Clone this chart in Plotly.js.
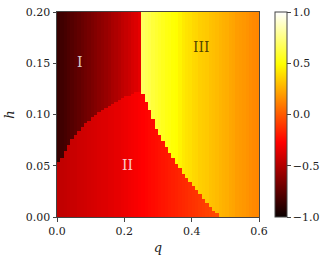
<!DOCTYPE html>
<html>
<head>
<meta charset="utf-8">
<script src="https://cdn.plot.ly/plotly-3.0.1.min.js"></script>
<style>html,body{margin:0;padding:0;background:#fff;}#chart{width:332px;height:261px;}</style>
</head>
<body>
<div id="chart"></div>
<script>
// Column centres along q (0.01 wide cells) and row centres along h (0.002 tall cells)
const qStep = 0.01, nCols = 60;
const hStep = 0.002, nRows = 100;

// Region I values per column (q = 0.005 ... 0.245)
const zRegionI = [-0.86,-0.84,-0.82,-0.80,-0.78,-0.76,-0.74,-0.72,-0.70,-0.68,-0.66,-0.64,-0.62,-0.60,-0.58,-0.56,-0.53,-0.51,-0.49,-0.46,-0.44,-0.42,-0.39,-0.37,-0.34];
// I / II boundary height per column (q = 0.005 ... 0.245)
const hBoundaryI = [0.054,0.059,0.065,0.070,0.076,0.080,0.084,0.088,0.092,0.095,0.098,0.101,0.103,0.105,0.107,0.109,0.111,0.113,0.115,0.116,0.118,0.119,0.121,0.122,0.123];
// Region II values per column (q = 0.005 ... 0.475)
const zRegionII = [-0.46,-0.455,-0.45,-0.44,-0.435,-0.43,-0.42,-0.415,-0.41,-0.40,-0.395,-0.39,-0.38,-0.375,-0.37,-0.36,-0.355,-0.345,-0.34,-0.33,-0.32,-0.31,-0.30,-0.29,-0.28,-0.27,-0.26,-0.25,-0.24,-0.23,-0.22,-0.21,-0.20,-0.19,-0.18,-0.17,-0.16,-0.15,-0.14,-0.13,-0.12,-0.11,-0.10,-0.09,-0.08,-0.07,-0.06,-0.05];
// Region III values per column (q = 0.255 ... 0.595)
const zRegionIII = [0.68,0.66,0.64,0.61,0.59,0.57,0.55,0.53,0.52,0.50,0.49,0.46,0.43,0.41,0.40,0.38,0.37,0.35,0.34,0.33,0.31,0.30,0.29,0.27,0.26,0.25,0.23,0.22,0.20,0.19,0.18,0.17,0.15,0.14,0.13];
// II / III boundary height per column (q = 0.255 ... 0.485); III lies above
const hBoundaryIII = [0.121,0.112,0.104,0.097,0.087,0.080,0.074,0.068,0.063,0.058,0.053,0.048,0.043,0.038,0.034,0.030,0.026,0.022,0.018,0.014,0.011,0.007,0.004,0.0];
const firstColIII = 25;

const regionLabels = ['I', 'II', 'III'];
const labelQ = [0.068, 0.208, 0.43];
const labelH = [0.151, 0.051, 0.166];
const xTicks = [0, 0.2, 0.4, 0.6];
const yTicks = [0, 0.05, 0.10, 0.15, 0.20];
const cbTicks = [-1, -0.5, 0, 0.5, 1];

const qCentres = [], hCentres = [];
for (let j = 0; j < nCols; j++) qCentres.push(+(qStep * (j + 0.5)).toFixed(4));
for (let i = 0; i < nRows; i++) hCentres.push(+(hStep * (i + 0.5)).toFixed(4));

const z = hCentres.map(h => qCentres.map((q, j) => {
  if (j >= firstColIII) {
    const k = j - firstColIII;
    const b = k < hBoundaryIII.length ? hBoundaryIII[k] : 0;
    if (h >= b) return zRegionIII[k];
    return zRegionII[j];
  }
  if (h >= hBoundaryI[j]) return zRegionI[j];
  return zRegionII[j];
}));

const hot = [[0,'rgb(10,0,0)'],[0.365079,'rgb(255,0,0)'],[0.746032,'rgb(255,255,0)'],[1,'rgb(255,255,255)']];
const tickFont = {family: 'DejaVu Serif', size: 11, color: '#222'};

const trace = {
  type: 'heatmap', x: qCentres, y: hCentres, z: z,
  zmin: -1, zmax: 1, colorscale: hot, hoverinfo: 'skip',
  colorbar: {
    x: 1.078, xanchor: 'left', xpad: 0, y: 0.5, yanchor: 'middle', ypad: 0,
    len: 1, lenmode: 'fraction', thickness: 12, thicknessmode: 'pixels',
    outlinewidth: 1, outlinecolor: '#444',
    ticks: 'outside', ticklen: 3.5, tickcolor: '#444',
    tickvals: cbTicks, tickformat: '.1f', tickfont: tickFont
  }
};

const axisCommon = {
  showgrid: false, zeroline: false, showline: true, mirror: true,
  linecolor: '#444', linewidth: 1, ticks: 'outside', ticklen: 3.5,
  tickcolor: '#444', tickfont: tickFont
};

const layout = {
  width: 332, height: 261,
  margin: {l: 57, r: 71, t: 12, b: 44},
  paper_bgcolor: '#fff', plot_bgcolor: '#fff',
  xaxis: Object.assign({}, axisCommon, {
    range: [0, 0.6], tickvals: xTicks, tickformat: '.1f',
    title: {text: '<i>q</i>', font: {family: 'DejaVu Serif', size: 13, color: '#222'}, standoff: 6}
  }),
  yaxis: Object.assign({}, axisCommon, {
    range: [0, 0.2], tickvals: yTicks, tickformat: '.2f',
    title: {text: '<i>h</i>', font: {family: 'DejaVu Serif', size: 13, color: '#222'}, standoff: 8}
  }),
  annotations: regionLabels.map((t, i) => ({
    x: labelQ[i], y: labelH[i], xref: 'x', yref: 'y', text: t, showarrow: false,
    font: {family: 'DejaVu Serif', size: 14, color: i === 2 ? 'rgba(0,0,0,0.7)' : 'rgba(255,255,255,0.8)'}
  }))
};

Plotly.newPlot('chart', [trace], layout, {displayModeBar: false, staticPlot: true});
</script>
</body>
</html>
